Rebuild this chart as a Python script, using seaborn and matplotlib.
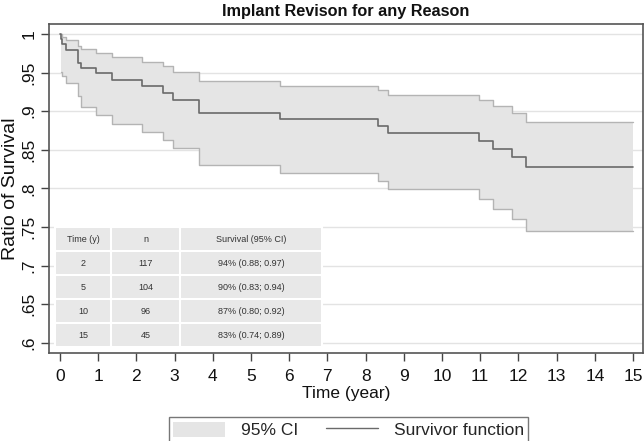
import numpy as np
import pandas as pd
import seaborn as sns
import matplotlib
matplotlib.use("Agg")
import matplotlib.pyplot as plt
from matplotlib.patches import Patch
from matplotlib.lines import Line2D

# step times (years) and Kaplan-Meier estimates
times = [0.0, 0.02, 0.06, 0.15, 0.48, 0.55, 0.93, 1.35, 2.15, 2.70, 2.96,
         3.64, 5.75, 8.32, 8.59, 10.98, 11.33, 11.84, 12.20, 15.0]
survival = [1.0, 0.994, 0.987, 0.979, 0.963, 0.956, 0.949, 0.940, 0.932, 0.924, 0.915,
            0.898, 0.890, 0.881, 0.872, 0.861, 0.851, 0.841, 0.828, 0.828]
ci_upper = [1.0, 1.0, 0.996, 0.992, 0.985, 0.980, 0.976, 0.970, 0.964, 0.958, 0.951,
            0.939, 0.933, 0.927, 0.921, 0.914, 0.907, 0.898, 0.886, 0.886]
ci_lower = [1.0, 0.951, 0.945, 0.936, 0.920, 0.906, 0.895, 0.884, 0.873, 0.863, 0.852,
            0.830, 0.820, 0.810, 0.799, 0.786, 0.773, 0.760, 0.745, 0.745]

# summary table
table_cols = ["Time (y)", "n", "Survival (95% CI)"]
table_time = ["2", "5", "10", "15"]
table_n = ["117", "104", "96", "45"]
table_surv = ["94% (0.88; 0.97)", "90% (0.83; 0.94)", "87% (0.80; 0.92)", "83% (0.74; 0.89)"]

y_ticks = [0.6, 0.65, 0.7, 0.75, 0.8, 0.85, 0.9, 0.95, 1.0]
y_tick_labels = [".6", ".65", ".7", ".75", ".8", ".85", ".9", ".95", "1"]
x_ticks = list(range(0, 16))

df = pd.DataFrame({"time": times, "surv": survival, "lo": ci_lower, "hi": ci_upper})
band = df.iloc[1:]

sns.set_theme(style="white")
plt.rcParams["font.family"] = ["Liberation Sans", "DejaVu Sans"]

fig = plt.figure(figsize=(6.44, 4.41), dpi=100)
ax = fig.add_axes([0.0766, 0.2002, 0.9218, 0.7454])

band_fill = "#e5e5e5"
band_edge = "#b4b4b4"
line_col = "#6a6a6a"

for y in y_ticks:
    ax.axhline(y, color="#e3e3e3", lw=1.0, zorder=0)

ax.fill_between(band["time"], band["lo"], band["hi"], step="post",
                color=band_fill, lw=0, zorder=1)
sns.lineplot(data=band, x="time", y="hi", drawstyle="steps-post", color=band_edge,
             lw=1.0, estimator=None, ax=ax, zorder=2)
sns.lineplot(data=band, x="time", y="lo", drawstyle="steps-post", color=band_edge,
             lw=1.0, estimator=None, ax=ax, zorder=2)
sns.lineplot(data=df, x="time", y="surv", drawstyle="steps-post", color=line_col,
             lw=1.2, estimator=None, ax=ax, zorder=3)

ax.set_xlim(-0.28, 15.26)
ax.set_ylim(0.587, 1.013)
ax.set_xticks(x_ticks)
ax.set_xticklabels([str(t) for t in x_ticks], fontsize=12.5)
ax.set_yticks(y_ticks)
ax.set_yticklabels(y_tick_labels, fontsize=12.5, rotation=90, va="center")
ax.tick_params(axis="both", direction="out", length=6, width=1, color="#444444",
               labelcolor="#111111", bottom=True, left=True)
ax.tick_params(axis="x", pad=6)
ax.tick_params(axis="y", pad=3)

for s in ax.spines.values():
    s.set_color("#555555")
    s.set_linewidth(1.2)

ax.set_xlabel("Time (year)", fontsize=12.5, labelpad=1, color="#111111")
ax.set_ylabel("Ratio of Survival", fontsize=14, labelpad=2, color="#111111")
ax.set_title("Implant Revison for any Reason", fontsize=11.7, fontweight="bold",
             pad=6, color="#111111")

# table inside the plot area
cell_text = [[a, b, c] for a, b, c in zip(table_time, table_n, table_surv)]
tbl = ax.table(cellText=cell_text, colLabels=table_cols, cellLoc="center",
               bbox=[0.0096, 0.0173, 0.4497, 0.365],
               colWidths=[56, 69, 142])
tbl.auto_set_font_size(False)
for (r, c), cell in tbl.get_celld().items():
    cell.set_facecolor("#e8e8e8")
    cell.set_edgecolor("white")
    cell.set_linewidth(1.5)
    cell.get_text().set_fontsize(6.5)
    cell.get_text().set_color("#333333")
tbl.set_zorder(4)

handles = [Patch(facecolor=band_fill, edgecolor="none", label="95% CI"),
           Line2D([0], [0], color=line_col, lw=1.0, label="Survivor function")]
leg = fig.legend(handles=handles, loc="center", bbox_to_anchor=(0.541, 0.025),
                 ncol=2, frameon=True, fancybox=False, fontsize=12.5,
                 handlelength=3.0, handleheight=1.0, columnspacing=1.6,
                 handletextpad=0.9, borderpad=0.25)
leg.get_frame().set_edgecolor("#555555")
leg.get_frame().set_linewidth(1.0)

fig.savefig("out.png", dpi=100)
